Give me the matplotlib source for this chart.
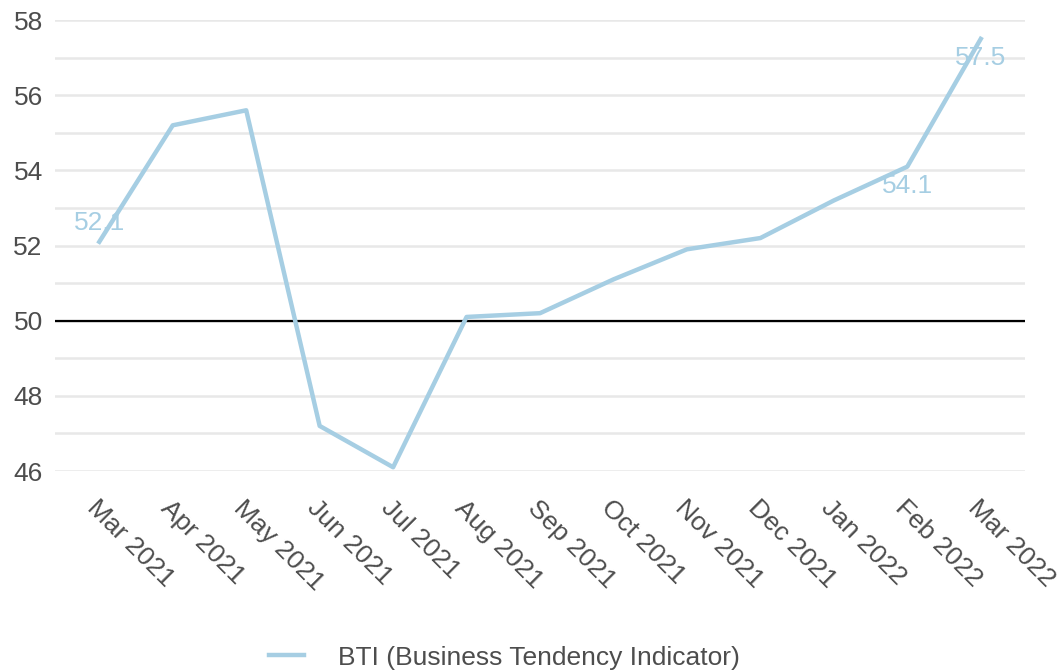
import matplotlib
matplotlib.use("Agg")
import matplotlib.pyplot as plt

plt.rcParams['font.family'] = ['Liberation Sans', 'DejaVu Sans']

months = ['Mar 2021', 'Apr 2021', 'May 2021', 'Jun 2021', 'Jul 2021', 'Aug 2021',
          'Sep 2021', 'Oct 2021', 'Nov 2021', 'Dec 2021', 'Jan 2022', 'Feb 2022',
          'Mar 2022']
bti = [52.1, 55.2, 55.6, 47.2, 46.1, 50.1, 50.2, 51.1, 51.9, 52.2, 53.2, 54.1, 57.5]

# which points get a value label, and whether it sits above (+) or below (-)
label_idx = [0, 11, 12]
label_dir = [1, -1, -1]

col = '#a6cee3'
txt = '#4d4d4d'
fs = 19

fig = plt.figure(figsize=(10.62, 6.70), dpi=100)
ax = fig.add_axes([0.052, 0.297, 0.913, 0.673])

x = list(range(len(months)))

for y in range(46, 59):
    ax.axhline(y, color='#e8e8e8', lw=1.8, zorder=0)
ax.axhline(50, color='black', lw=1.6, zorder=1)

ax.plot(x, bti, color=col, lw=3.2, label='BTI (Business Tendency Indicator)',
        zorder=3, clip_on=False)

for i, d in zip(label_idx, label_dir):
    ax.annotate(f'{bti[i]:.1f}', (x[i], bti[i]), xytext=(0, 19 * d),
                textcoords='offset pixels',
                ha='center', va='center', color=col, fontsize=fs, zorder=4)

ax.set_xlim(-0.6, 12.6)
ax.set_ylim(46, 58)
ax.set_yticks([46, 48, 50, 52, 54, 56, 58])
ax.set_xticks(x)
ax.set_xticklabels(months, rotation=-45, ha='left', va='top',
                   rotation_mode='anchor')
ax.tick_params(axis='both', length=0, labelsize=fs, colors=txt)
ax.tick_params(axis='x', pad=18)
ax.tick_params(axis='y', pad=9)
for s in ax.spines.values():
    s.set_visible(False)

fig.legend(loc='lower center', bbox_to_anchor=(0.475, -0.035), frameon=False,
           fontsize=fs, handlelength=1.3, handletextpad=1.3, labelcolor=txt)

fig.savefig('out.png', dpi=100)
